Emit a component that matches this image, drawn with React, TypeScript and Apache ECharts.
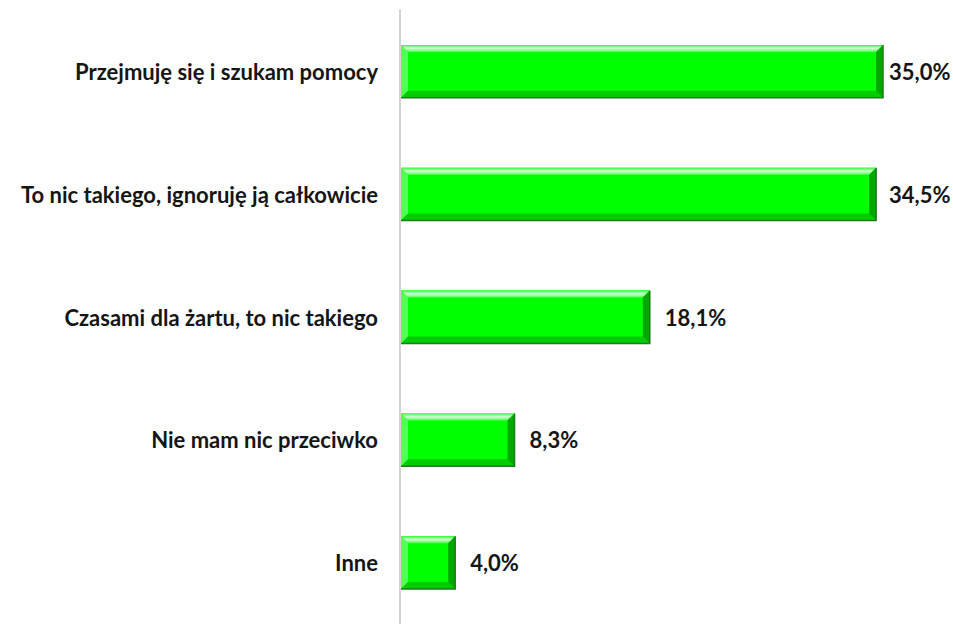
import React, { useEffect, useRef } from "react";
import * as echarts from "echarts";

const categories = [
  "Przejmuję się i szukam pomocy",
  "To nic takiego, ignoruję ją całkowicie",
  "Czasami dla żartu, to nic takiego",
  "Nie mam nic przeciwko",
  "Inne",
];
const values = [35.0, 34.5, 18.1, 8.3, 4.0];

const fmt = (v: number) => v.toFixed(1).replace(".", ",") + "%";
const FONT = "Lato, 'Open Sans', sans-serif";

export default function App() {
  const ref = useRef<HTMLDivElement>(null);
  useEffect(() => {
    document.body.style.margin = "0";
    const chart = echarts.init(ref.current!, undefined, { renderer: "svg" });
    const data = values.map((v, i) => [v, i]);
    chart.setOption({
      animation: false,
      backgroundColor: "#ffffff",
      grid: { left: 400, top: 10, height: 617, width: 552 },
      xAxis: {
        type: "value",
        min: 0,
        max: 40,
        show: false,
      },
      yAxis: {
        type: "category",
        data: categories,
        inverse: true,
        axisLine: { show: true, lineStyle: { color: "#d4d4d4", width: 2 } },
        axisTick: { show: false },
        axisLabel: {
          margin: 22,
          color: "#151515",
          fontSize: 22,
          fontWeight: "bold",
          fontFamily: FONT,
        },
      },
      series: [
        {
          type: "custom",
          encode: { x: 0, y: 1 },
          data,
          renderItem: (params: any, api: any) => {
            const val = api.value(0);
            const cat = api.value(1);
            const s = api.coord([0, cat]);
            const e = api.coord([val, cat]);
            const h = api.size([0, 1])[1] * 0.43;
            const x0 = s[0] + 1;
            const x1 = e[0];
            const yT = s[1] - h / 2;
            const yB = yT + h;
            const b = 7;
            const labelX = Math.min(x1 + 15, api.getWidth() - 64);
            return {
              type: "group",
              children: [
                { type: "rect", shape: { x: x0, y: yT, width: x1 - x0, height: h }, style: { fill: "#00ff00" } },
                {
                  type: "polygon",
                  shape: { points: [[x0, yT], [x1, yT], [x1 - b, yT + b], [x0 + b, yT + b]] },
                  style: {
                    fill: new echarts.graphic.LinearGradient(0, 0, 0, 1, [
                      { offset: 0, color: "#2cff2c" },
                      { offset: 0.45, color: "#d8ffd8" },
                      { offset: 1, color: "#4dff4d" },
                    ]),
                  },
                },
                {
                  type: "polygon",
                  shape: { points: [[x0, yT], [x0 + b, yT + b], [x0 + b, yB - b], [x0, yB]] },
                  style: { fill: "#55ff55" },
                },
                {
                  type: "polygon",
                  shape: { points: [[x0, yB], [x0 + b, yB - b], [x1 - b, yB - b], [x1, yB]] },
                  style: { fill: "#00cc00" },
                },
                {
                  type: "polygon",
                  shape: { points: [[x1, yT], [x1, yB], [x1 - b, yB - b], [x1 - b, yT + b]] },
                  style: { fill: "#00a800" },
                },
                {
                  type: "polyline",
                  shape: { points: [[x0, yB], [x1, yB], [x1, yT]] },
                  style: { stroke: "#1f7a1f", lineWidth: 1.5, fill: null },
                },
                {
                  type: "text",
                  style: {
                    text: fmt(val),
                    x: labelX,
                    y: s[1],
                    align: "left",
                    verticalAlign: "middle",
                    fill: "#151515",
                    font: `bold 22px ${FONT}`,
                  },
                },
              ],
            };
          },
        },
      ],
    });
    return () => chart.dispose();
  }, []);
  return <div ref={ref} style={{ width: 953, height: 624 }} />;
}
